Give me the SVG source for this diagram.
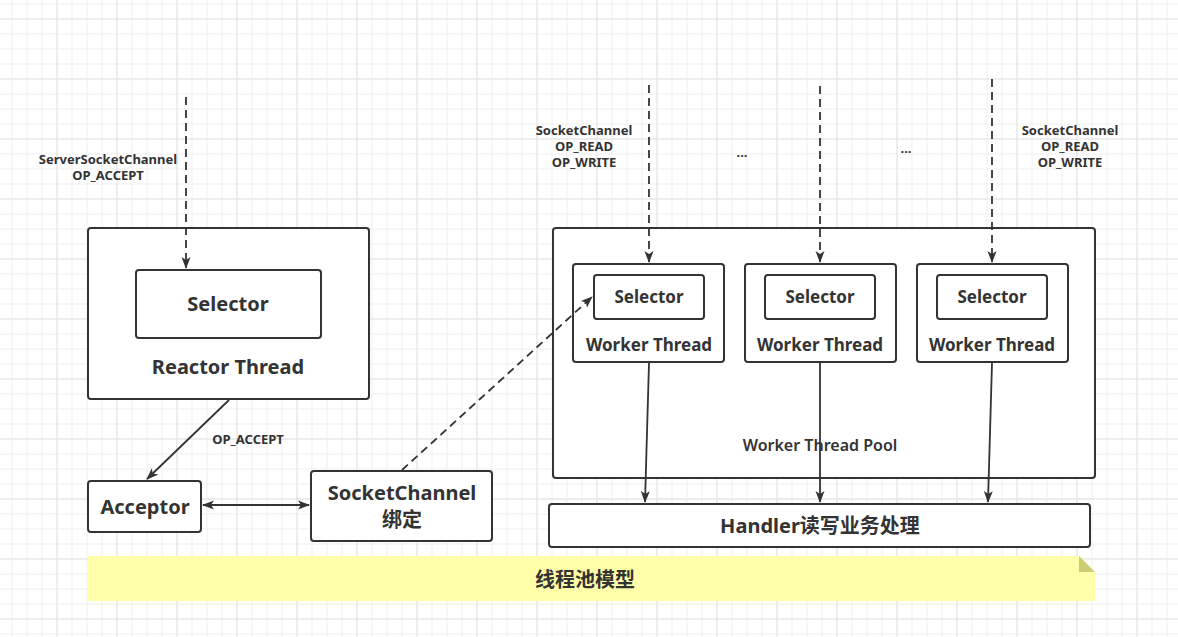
<svg xmlns="http://www.w3.org/2000/svg" width="1178" height="637" viewBox="0 0 1178 637">
<defs>
<pattern id="minor" width="15" height="15" patternUnits="userSpaceOnUse" x="11.5" y="3.5">
<path d="M0 0.5H15M0.5 0V15" fill="none" stroke="#efefef" stroke-width="1"/>
</pattern>
<pattern id="major" width="60" height="60" patternUnits="userSpaceOnUse" x="56.5" y="18.5">
<path d="M0 0.5H60M0.5 0V60" fill="none" stroke="#e2e2e2" stroke-width="1"/>
</pattern>
<marker id="arr" viewBox="0 0 12 10" refX="11" refY="5" markerWidth="12" markerHeight="10" markerUnits="userSpaceOnUse" orient="auto-start-reverse">
<path d="M0 0.5L12 5L0 9.5L3 5Z" fill="#333"/>
</marker>
</defs>
<style>
.box{fill:#fff;stroke:#333;stroke-width:2}
.ln{fill:none;stroke:#333;stroke-width:1.8}
.dash{stroke-dasharray:8 5}
text{font-family:"Noto Sans","Noto Sans CJK SC",sans-serif;fill:#333;font-weight:bold;text-anchor:middle}
.big{font-size:20px}
.mid{font-size:17px}
.sm{font-size:13px}
</style>
<rect width="1178" height="637" fill="#fff"/>
<rect width="1178" height="637" fill="url(#minor)"/>
<rect width="1178" height="637" fill="url(#major)"/>

<g id="note">
<path d="M88 556H1079L1095 572V601H88Z" fill="#ffffaa"/>
<path d="M1079 556L1095 572H1079Z" fill="#cccc77"/>
<text class="big" x="585" y="587">线程池模型</text>
</g>

<g id="reactor">
<rect class="box" x="88" y="228" width="281" height="171" rx="3"/>
<text class="big" x="228" y="374">Reactor Thread</text>
</g>
<g id="reactor-selector">
<rect class="box" x="136" y="270" width="185" height="68" rx="3"/>
<text class="big" x="228" y="311">Selector</text>
</g>
<g id="acceptor">
<rect class="box" x="88" y="481" width="113" height="51" rx="3"/>
<text class="big" x="145" y="514">Acceptor</text>
</g>
<g id="socketchannel">
<rect class="box" x="311" y="471" width="181" height="70" rx="3"/>
<text class="big" x="402" y="500">SocketChannel</text>
<text class="big" x="402" y="527">绑定</text>
</g>

<g id="pool">
<rect class="box" x="553" y="228" width="542" height="250" rx="3"/>
<text x="820" y="451" style="font-size:16px;font-weight:600">Worker Thread Pool</text>
</g>
<g id="worker1">
<rect class="box" x="573" y="264" width="151" height="98" rx="3"/>
<rect class="box" x="594" y="275" width="110" height="44" rx="3"/>
<text class="mid" x="649" y="303">Selector</text>
<text class="mid" x="649" y="351">Worker Thread</text>
</g>
<g id="worker2">
<rect class="box" x="745" y="264" width="151" height="98" rx="3"/>
<rect class="box" x="765" y="275" width="110" height="44" rx="3"/>
<text class="mid" x="820" y="303">Selector</text>
<text class="mid" x="820" y="351">Worker Thread</text>
</g>
<g id="worker3">
<rect class="box" x="917" y="264" width="151" height="98" rx="3"/>
<rect class="box" x="937" y="275" width="110" height="44" rx="3"/>
<text class="mid" x="992" y="303">Selector</text>
<text class="mid" x="992" y="351">Worker Thread</text>
</g>
<g id="handler">
<rect class="box" x="549" y="504" width="541" height="43" rx="3"/>
<text class="big" x="820" y="533">Handler读写业务处理</text>
</g>

<g id="connectors">
<path class="ln dash" d="M186 97V268" marker-end="url(#arr)"/>
<path class="ln" d="M229 400L147 479" marker-end="url(#arr)"/>
<path class="ln" d="M203 505H309" marker-start="url(#arr)" marker-end="url(#arr)"/>
<path class="ln dash" d="M402 470L592 297" marker-end="url(#arr)"/>
<path class="ln dash" d="M649 85V262" marker-end="url(#arr)"/>
<path class="ln dash" d="M820 86V262" marker-end="url(#arr)"/>
<path class="ln dash" d="M992 79V262" marker-end="url(#arr)"/>
<path class="ln" d="M649 363L645 502" marker-end="url(#arr)"/>
<path class="ln" d="M820 363V502" marker-end="url(#arr)"/>
<path class="ln" d="M992 363L988 502" marker-end="url(#arr)"/>
</g>

<g id="labels">
<text class="sm" x="108" y="164">ServerSocketChannel</text>
<text class="sm" x="108" y="180">OP_ACCEPT</text>
<text class="sm" x="248" y="444">OP_ACCEPT</text>
<text class="sm" x="584" y="135">SocketChannel</text>
<text class="sm" x="584" y="151">OP_READ</text>
<text class="sm" x="584" y="167">OP_WRITE</text>
<text class="sm" x="1070" y="135">SocketChannel</text>
<text class="sm" x="1070" y="151">OP_READ</text>
<text class="sm" x="1070" y="167">OP_WRITE</text>
<text class="sm" x="742" y="157">...</text>
<text class="sm" x="906" y="153">...</text>
</g>
</svg>
